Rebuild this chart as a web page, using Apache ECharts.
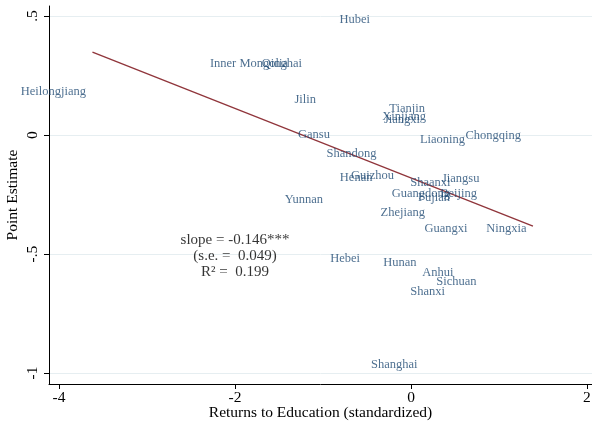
<!DOCTYPE html>
<html>
<head>
<meta charset="utf-8">
<script src="https://cdn.jsdelivr.net/npm/echarts@6/dist/echarts.min.js"></script>
<style>
  html, body { margin: 0; padding: 0; background: #ffffff; }
  #chart { width: 592px; height: 430px; }
</style>
</head>
<body>
<div id="chart"></div>
<script>
// Province-level point estimates against standardized returns to education
const provinces = [
  'Hubei', 'Inner Mongolia', 'Qinghai', 'Heilongjiang', 'Jilin', 'Tianjin',
  'Xinjiang', 'Jiangxi', 'Gansu', 'Shandong', 'Liaoning', 'Chongqing',
  'Ningxia', 'Henan', 'Guizhou', 'Yunnan', 'Shaanxi', 'Jiangsu',
  'Guangdong', 'Fujian', 'Beijing', 'Zhejiang', 'Guangxi', 'Hebei',
  'Hunan', 'Anhui', 'Sichuan', 'Shanxi', 'Shanghai'
];
const returnsEdu = [
  -0.392, -1.324, -1.165, -3.620, -1.006, 0.233,
  0.244, 0.176, -0.847, -0.318, 0.688, 1.324,
  1.386, -0.364, -0.119, -0.926, 0.523, 0.852,
  0.517, 0.517, 0.824, 0.233, 0.716, -0.506,
  0.136, 0.557, 0.818, 0.460, 0.148
];
const pointEst = [
  0.483, 0.298, 0.298, 0.182, 0.147, 0.111,
  0.078, 0.063, 0.002, -0.078, -0.021, -0.004,
  -0.395, -0.180, -0.172, -0.273, -0.202, -0.183,
  -0.248, -0.265, -0.246, -0.326, -0.395, -0.521,
  -0.537, -0.579, -0.616, -0.658, -0.966
];

// Regression summary shown in the annotation
const fitSlope = -0.146;
const fitSE = 0.049;
const fitR2 = 0.199;

const xTicks = [-4, -2, 0, 2];
const yTicks = [-1, -0.5, 0, 0.5];

const serif = "'Liberation Serif', 'Times New Roman', serif";
const labelNavy = '#1f4a73';
const fitColor = '#90353b';
const gridColor = '#e6eef1';

// Fitted line through the means with the reported slope, spanning the data range
const n = returnsEdu.length;
const meanX = returnsEdu.reduce((a, b) => a + b, 0) / n;
const meanY = pointEst.reduce((a, b) => a + b, 0) / n;
const fitIntercept = meanY - fitSlope * meanX;
const xLo = Math.min(...returnsEdu);
const xHi = Math.max(...returnsEdu);
const fitLine = [xLo, xHi].map(x => [x, fitIntercept + fitSlope * x]);

const points = provinces.map((name, i) => ({ name, value: [returnsEdu[i], pointEst[i]] }));

function yLabel(v) {
  if (v === 0) return '0';
  return String(v).replace('0.', '.');
}

const chart = echarts.init(document.getElementById('chart'), null, { renderer: 'canvas' });

chart.setOption({
  animation: false,
  backgroundColor: '#ffffff',
  grid: { left: 49, right: 0, top: 6, bottom: 46, containLabel: false, outerBoundsMode: 'none' },
  xAxis: {
    type: 'value',
    min: -4.114,
    max: 2.057,
    name: 'Returns to Education (standardized)',
    nameLocation: 'middle',
    nameGap: 21,
    nameMoveOverlap: false,
    nameTextStyle: { fontFamily: serif, fontSize: 15.5, color: '#000' },
    axisLine: { show: true, onZero: false, lineStyle: { color: '#000', width: 1 } },
    axisTick: { show: true, customValues: xTicks, length: 5, lineStyle: { color: '#000' } },
    axisLabel: {
      customValues: xTicks, margin: 6,
      fontFamily: serif, fontSize: 15.5, color: '#000',
      formatter: v => String(v)
    },
    splitLine: { show: false }
  },
  yAxis: {
    type: 'value',
    min: -1.046,
    max: 0.542,
    name: 'Point Estimate',
    nameLocation: 'middle',
    nameGap: 28,
    nameMoveOverlap: false,
    nameRotate: 90,
    nameTextStyle: { fontFamily: serif, fontSize: 15.5, color: '#000' },
    axisLine: { show: true, onZero: false, lineStyle: { color: '#000', width: 1 } },
    axisTick: { show: true, customValues: yTicks, length: 5, lineStyle: { color: '#000' } },
    axisLabel: {
      customValues: yTicks, margin: 8, rotate: 90,
      fontFamily: serif, fontSize: 15.5, color: '#000',
      formatter: yLabel
    },
    splitLine: { show: false }
  },
  series: [
    {
      // horizontal gridlines at the y ticks, kept beneath everything else
      type: 'line',
      data: [],
      z: 0,
      silent: true,
      markLine: {
        z: 0,
        silent: true,
        symbol: 'none',
        label: { show: false },
        emphasis: { disabled: true },
        lineStyle: { color: gridColor, width: 1, type: 'solid' },
        data: yTicks.map(v => ({ yAxis: v }))
      }
    },
    {
      type: 'line',
      data: fitLine,
      showSymbol: false,
      symbol: 'none',
      z: 2,
      lineStyle: { color: fitColor, width: 1.3 }
    },
    {
      type: 'scatter',
      data: points,
      symbolSize: 0,
      z: 3,
      label: {
        show: true,
        position: 'left',
        distance: 6.5,
        formatter: p => p.name,
        fontFamily: serif,
        fontSize: 12.5,
        color: labelNavy
      }
    },
    {
      // regression summary annotation
      type: 'scatter',
      data: [[-2, -0.5]],
      symbolSize: 0,
      z: 4,
      silent: true,
      label: {
        show: true,
        position: 'inside',
        align: 'center',
        verticalAlign: 'middle',
        offset: [0, 2],
        fontFamily: serif,
        fontSize: 15,
        lineHeight: 16,
        color: '#000',
        formatter: () => [
          'slope = ' + fitSlope.toFixed(3) + '***',
          '(s.e. =  ' + fitSE.toFixed(3) + ')',
          'R\u00B2 =  ' + fitR2.toFixed(3)
        ].join('\n')
      }
    }
  ]
});
</script>
</body>
</html>
